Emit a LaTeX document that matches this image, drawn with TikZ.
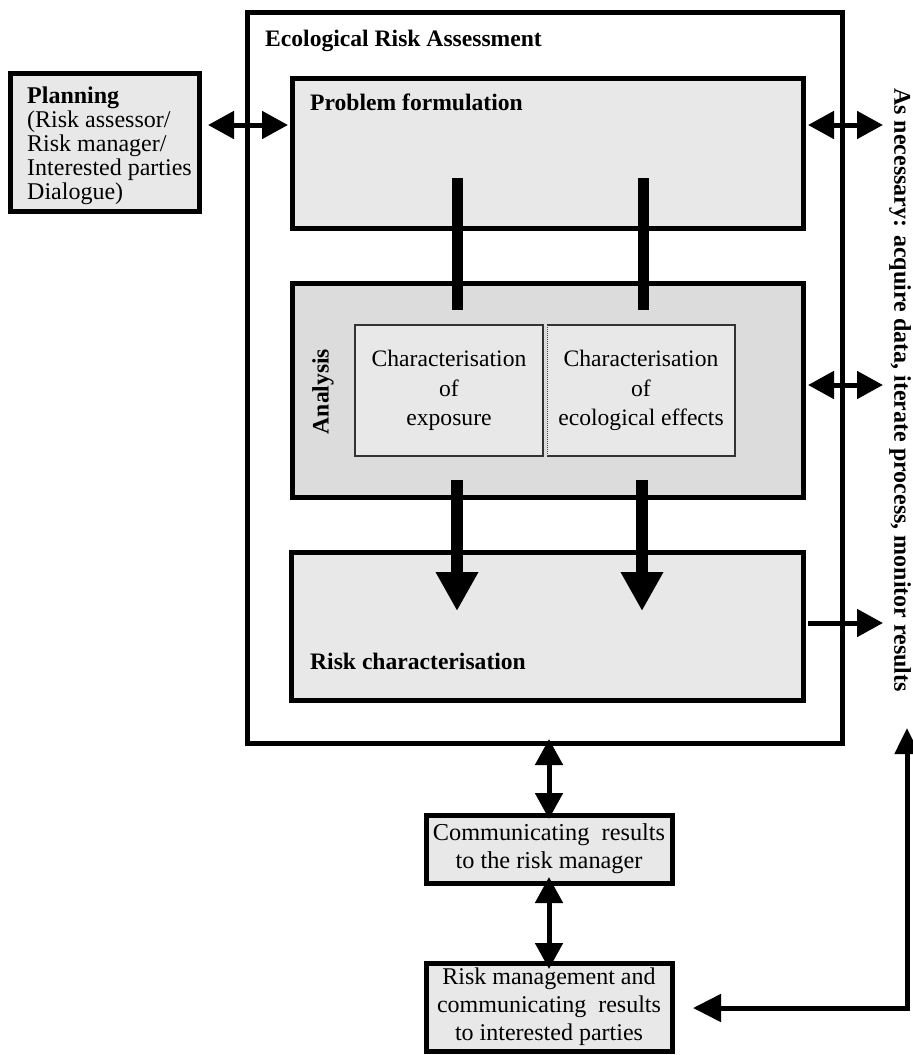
\documentclass[tikz,border=0pt]{standalone}
\usepackage{fontspec}
\setmainfont{Liberation Serif}
\usetikzlibrary{arrows.meta}
\definecolor{lightbox}{HTML}{E8E8E8}
\definecolor{anabox}{HTML}{DCDCDC}
\tikzset{
  txt/.style={font=\fontsize{23.6}{28}\selectfont},
  bigbox/.style={draw, line width=5pt, fill=lightbox, inner sep=0pt, outer sep=0pt},
  charbox/.style={fill=lightbox, inner sep=0pt, outer sep=0pt, align=center, font=\fontsize{23.6}{29.5}\selectfont},
  dbl/.style={line width=5pt, {Triangle[width=27pt,length=26pt]}-{Triangle[width=27pt,length=26pt]}},
  sgl/.style={line width=5pt, -{Triangle[width=27pt,length=26pt]}},
  bar/.style={line width=11pt},
  bigarrow/.style={line width=12pt, -{Triangle[width=40pt,length=39pt]}}
}
\begin{document}
\begin{tikzpicture}[x=1pt,y=-1pt]
\useasboundingbox (0,0) rectangle (913,1055);

% outer box
\node[draw, line width=5pt, inner sep=0pt, outer sep=0pt, minimum width=595pt, minimum height=731pt] (era) at (544.5,377.5) {};
\node[txt, anchor=base west, inner sep=0pt] (eralabel) at (265,46) {\textbf{Ecological Risk Assessment}};

% planning
\node[bigbox, minimum width=189pt, minimum height=138pt] (planning) at (104.5,142) {};
\node[anchor=north west, inner sep=0pt, align=left, font=\fontsize{24}{24.2}\selectfont] (planningtext) at (27,86)
  {\strut\textbf{Planning}\\(Risk assessor/\\Risk manager/\\Interested parties\\Dialogue)};

% problem formulation
\node[bigbox, minimum width=511pt, minimum height=150pt] (pf) at (547.5,153) {};
\node[txt, anchor=base west, inner sep=0pt] (pflabel) at (310,110) {\textbf{Problem formulation}};

% analysis
\node[bigbox, fill=anabox, minimum width=511pt, minimum height=214pt] (ana) at (547.5,390) {};
\node[txt, rotate=90, inner sep=0pt] (analabel) at (323,391.5) {\textbf{Analysis}};
\node[charbox, draw=black!80, line width=1.5pt, minimum width=188pt, minimum height=131pt] (ce) at (449,390.5)
  {Characterisation\\of\\exposure};
\node[charbox, minimum width=188pt, minimum height=131pt] (cf) at (641,390.5)
  {Characterisation\\of\\ecological effects};
\draw[black!80, line width=1.5pt] (cf.south west) -- (cf.south east) -- (cf.north east) -- (cf.north west);
\draw[black!70, line width=1pt, densely dotted] (cf.north west) -- (cf.south west);

% risk characterisation
\node[bigbox, minimum width=512pt, minimum height=148pt] (rc) at (547,626) {};
\node[txt, anchor=base west, inner sep=0pt] (rclabel) at (310,669) {\textbf{Risk characterisation}};

% bars between problem formulation and analysis
\coordinate (b1t) at (457,178); \coordinate (b1b) at (457,310);
\coordinate (b2t) at (643,178); \coordinate (b2b) at (643,310);
\draw[bar] (b1t) -- (b1b);
\draw[bar] (b2t) -- (b2b);

% big arrows analysis -> risk characterisation
\coordinate (a1s) at (457,480); \coordinate (a1e) at (457,611);
\coordinate (a2s) at (642,480); \coordinate (a2e) at (642,611);
\draw[bigarrow] (a1s) -- (a1e);
\draw[bigarrow] (a2s) -- (a2e);

% right side arrows
\coordinate (r1) at (883,125);
\coordinate (r2) at (883,385);
\coordinate (r3) at (883,623);

% planning <-> problem formulation
\draw[dbl] ([xshift=9pt]planning.east |- r1) -- ([xshift=-4pt]pf.west |- r1);

\draw[dbl] ([xshift=5pt]pf.east |- r1) -- (r1);
\draw[dbl] ([xshift=5pt]ana.east |- r2) -- (r2);
\draw[sgl] ([xshift=5pt]rc.east |- r3) -- (r3);

\node[txt, rotate=-90, inner sep=0pt, font=\fontsize{24}{28}\selectfont] (asnec) at (900,390)
  {\textbf{As necessary: acquire data, iterate process, monitor results}};

% communicating boxes
\node[bigbox, minimum width=246pt, minimum height=68pt, align=center, font=\fontsize{24.3}{28}\selectfont] (comm) at (549,849)
  {Communicating\ \ results\\to the risk manager};
\node[bigbox, minimum width=246pt, minimum height=88pt, align=center, font=\fontsize{24}{28}\selectfont] (rm) at (549,1007)
  {Risk management and\\communicating\ \ results\\to interested parties};

\draw[dbl] ([yshift=4pt]era.south -| comm.north) -- ([yshift=-4pt]comm.north);
\draw[dbl] ([yshift=6pt]comm.south) -- ([yshift=-6pt]rm.north);

% feedback connector
\coordinate (corner) at (907,1008);
\coordinate (uptip) at (907,728);
\draw[line width=5pt, {Triangle[width=27pt,length=28pt]}-{Triangle[width=24pt,length=26pt]}]
  ([xshift=21pt]rm.east |- corner) -- (corner) -- (uptip);
\end{tikzpicture}
\end{document}
